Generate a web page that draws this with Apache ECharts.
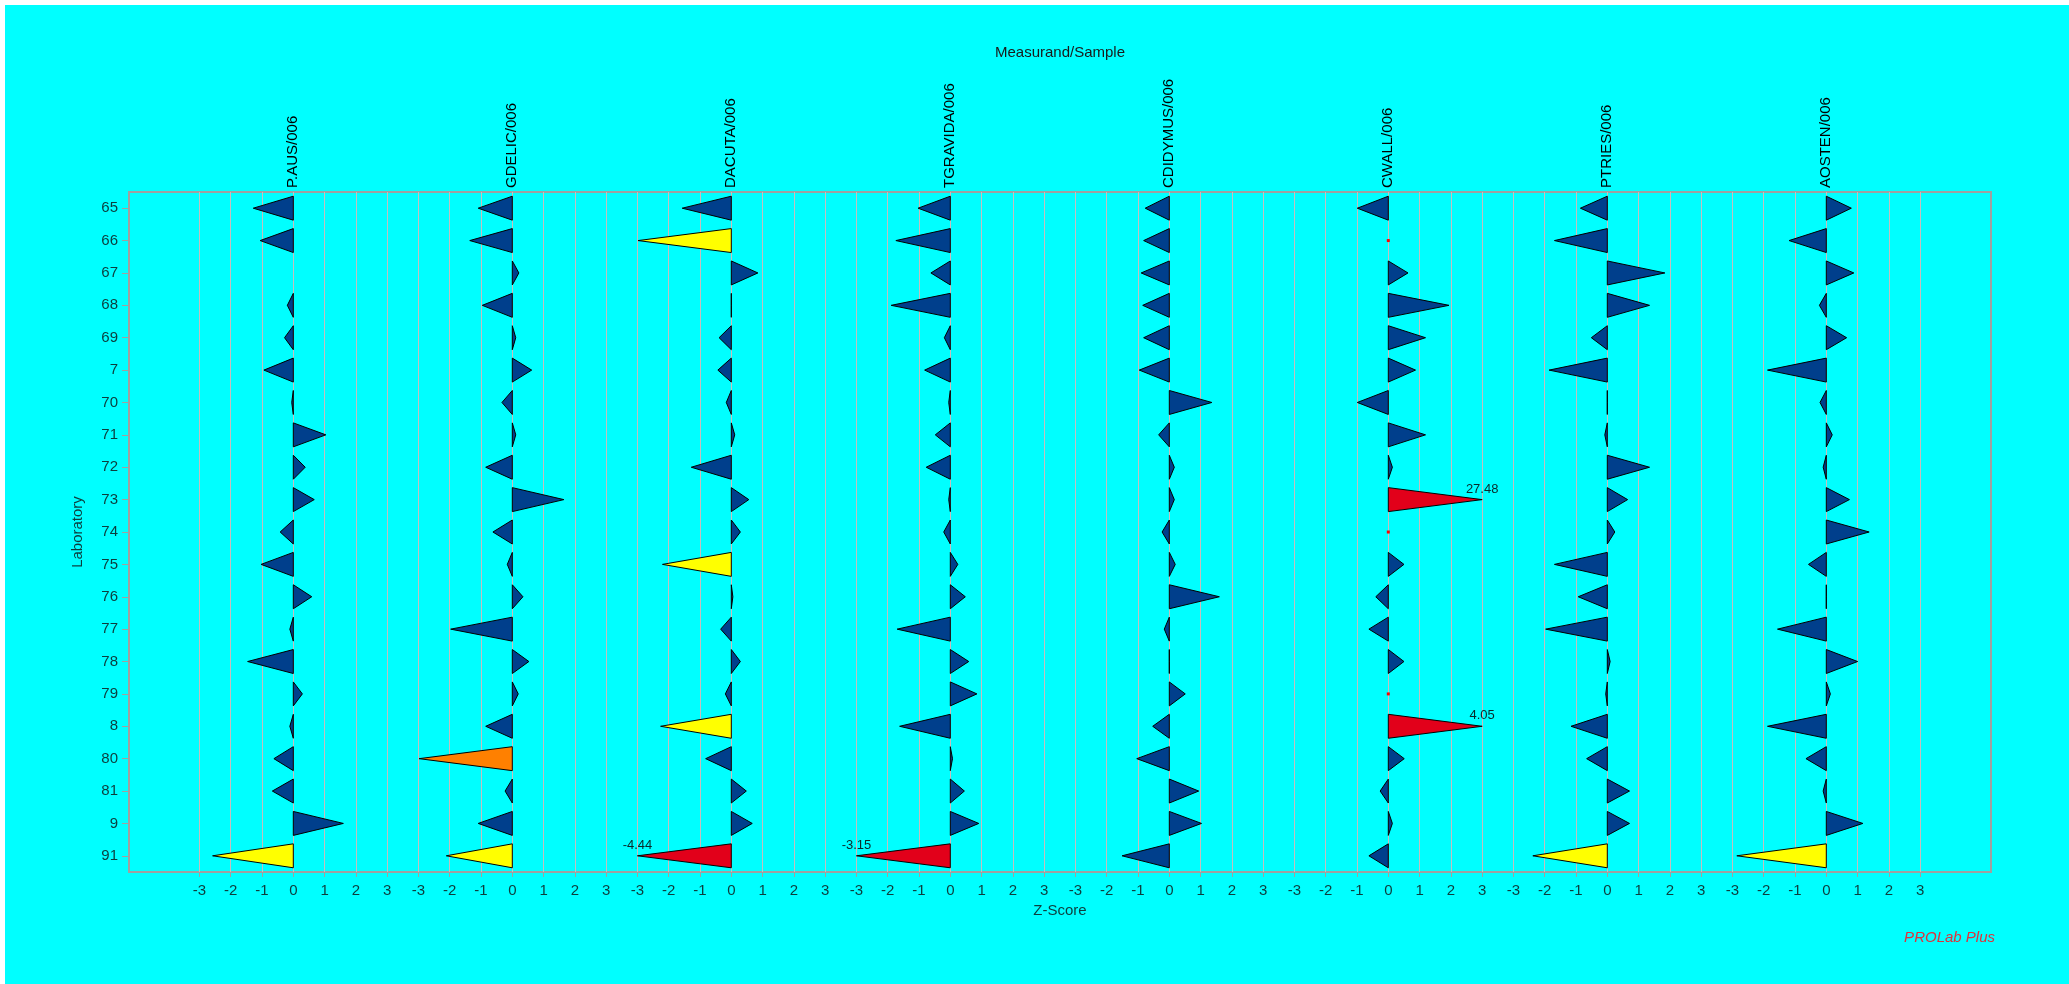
<!DOCTYPE html>
<html><head><meta charset="utf-8">
<script src="https://cdn.jsdelivr.net/npm/echarts@6/dist/echarts.min.js"></script>
<style>
html,body{margin:0;padding:0;background:#ffffff;width:2069px;height:984px;overflow:hidden}
#c{position:absolute;left:5px;top:5px;width:2064px;height:979px;background:#00ffff}
</style></head>
<body><div id="c"></div>
<script>
// ---------- data ----------
const laboratories = ['65','66','67','68','69','7','70','71','72','73','74','75','76','77','78','79','8','80','81','9','91'];
const measurands = ['P.AUS/006','GDELIC/006','DACUTA/006','TGRAVIDA/006','CDIDYMUS/006','CWALL/006','PTRIES/006','AOSTEN/006'];
const zTicks = [-3,-2,-1,0,1,2,3];

const zPAUS     = [-1.28,-1.06, null,-0.19,-0.28,-0.94,-0.05, 1.04, 0.38, 0.67,-0.42,-1.03, 0.59,-0.11,-1.46, 0.29,-0.11,-0.62,-0.67, 1.60,-2.58];
const zGDELIC   = [-1.09,-1.36, 0.21,-0.96, 0.11, 0.62,-0.33, 0.11,-0.85, 1.65,-0.62,-0.16, 0.34,-1.97, 0.53, 0.19,-0.85,-2.98,-0.23,-1.09,-2.11];
const zDACUTA   = [-1.57,-2.98, 0.85, 0.00,-0.39,-0.43,-0.16, 0.11,-1.28, 0.56, 0.29,-2.20, 0.05,-0.34, 0.29,-0.19,-2.26,-0.82, 0.48, 0.67,-4.44];
const zTGRAVIDA = [-1.03,-1.74,-0.62,-1.89,-0.19,-0.82,-0.05,-0.48,-0.77,-0.05,-0.21, 0.24, 0.48,-1.70, 0.59, 0.85,-1.62, 0.07, 0.45, 0.91,-3.15];
const zCDIDYMUS = [-0.77,-0.82,-0.90,-0.85,-0.82,-0.96, 1.36,-0.34, 0.16, 0.16,-0.23, 0.19, 1.60,-0.16, 0.00, 0.51,-0.53,-1.04, 0.94, 1.03,-1.51];
const zCWALL    = [-0.99, null, 0.63, 1.94, 1.19, 0.87,-0.99, 1.19, 0.13,27.48, null, 0.50,-0.40,-0.62, 0.50, null, 4.05, 0.51,-0.26, 0.13,-0.62];
const zPTRIES   = [-0.86,-1.69, 1.84, 1.35,-0.51,-1.86, 0.00,-0.08, 1.35, 0.65, 0.24,-1.69,-0.93,-1.97, 0.09,-0.05,-1.16,-0.66, 0.71, 0.71,-2.38];
const zAOSTEN   = [ 0.80,-1.19, 0.88,-0.22, 0.65,-1.88,-0.20, 0.19,-0.10, 0.74, 1.37,-0.57, 0.00,-1.56, 1.00, 0.13,-1.88,-0.65,-0.10, 1.17,-2.86];

const zScores = [zPAUS, zGDELIC, zDACUTA, zTGRAVIDA, zCDIDYMUS, zCWALL, zPTRIES, zAOSTEN];
const orangeCells = [['GDELIC/006','80']];
const noScoreCells = [['CWALL/006','66'],['CWALL/006','74'],['CWALL/006','79']];

// ---------- style / layout ----------
const FONT = 'Arial, "Liberation Sans", sans-serif';
const TXT = '#0d3d3d';
const BLUE = '#003f8c', YELLOW = '#ffff00', ORANGE = '#ff8000', RED = '#e2001a';
const FRAME = {left:124, top:187, width:1862, height:680};
const ZERO0 = 288.3, STEP = 219, UNIT = 219/7;

function isIn(list, m, lab){ return list.some(c => c[0]===m && c[1]===lab); }
function colorFor(m, lab, z){
  if (isIn(orangeCells, m, lab)) return ORANGE;
  const a = Math.abs(z);
  return a >= 3 ? RED : (a >= 2 ? YELLOW : BLUE);
}

const chart = echarts.init(document.getElementById('c'), null, {renderer:'canvas'});

const grids = [{left:FRAME.left, top:FRAME.top, width:FRAME.width, height:FRAME.height,
  show:true, borderColor:'#a0a0a0', borderWidth:2, backgroundColor:'transparent'}];
const xAxes = [{gridIndex:0, type:'value', min:0, max:1, axisLine:{show:false}, axisTick:{show:false},
  axisLabel:{show:false}, splitLine:{show:false}, name:'Z-Score', nameLocation:'middle', nameGap:31,
  nameTextStyle:{fontSize:15, color:TXT, fontFamily:FONT}}];
const yAxes = [{gridIndex:0, type:'category', data:laboratories, inverse:true,
  axisLine:{show:false}, axisTick:{show:true, length:7, alignWithLabel:true, lineStyle:{color:'#a0a0a0'}},
  axisLabel:{fontSize:15, color:TXT, margin:11, fontFamily:FONT}, splitLine:{show:false},
  name:'Laboratory', nameLocation:'middle', nameGap:44, nameRotate:90,
  nameTextStyle:{fontSize:15, color:TXT, fontFamily:FONT}}];
const series = [];

measurands.forEach((m, k) => {
  grids.push({left: ZERO0 + STEP*k - 3*UNIT, top:FRAME.top, width:6*UNIT, height:FRAME.height, show:false});
  xAxes.push({gridIndex:k+1, type:'value', min:zTicks[0], max:zTicks[zTicks.length-1], interval:1,
    axisLine:{show:false}, axisTick:{show:true, length:5, lineStyle:{color:'#a0a0a0'}},
    axisLabel:{fontSize:15, color:TXT, margin:11, fontFamily:FONT, showMinLabel:true, showMaxLabel:true},
    splitLine:{show:true, lineStyle:{color:'#c6bebe', width:1}}});
  yAxes.push({gridIndex:k+1, type:'category', data:laboratories, inverse:true, show:false});
  const vals = zScores[k];
  const items = [], meta = [];
  vals.forEach((z, i) => {
    const lab = laboratories[i];
    if (z === null) {
      if (isIn(noScoreCells, m, lab)) { items.push([0, i]); meta.push({dot:true}); }
      return;
    }
    const zc = Math.max(-3, Math.min(3, z));
    items.push([zc, i]);
    meta.push({raw:z, color:colorFor(m, lab, z), clipped: Math.abs(z) > 3});
  });
  series.push({
    type:'custom', xAxisIndex:k+1, yAxisIndex:k+1, data:items, encode:{x:0, y:1}, clip:false, silent:true,
    renderItem(params, api){
      const info = meta[params.dataIndex];
      const yi = api.value(1);
      const p0 = api.coord([0, yi]);
      if (info.dot) {
        return {type:'rect', shape:{x:p0[0]-1.5, y:p0[1]-1.5, width:3, height:3}, style:{fill:'#ff0000'}};
      }
      const p1 = api.coord([api.value(0), yi]);
      const half = api.size([0,1])[1] * 0.37;
      const children = [{type:'polygon', shape:{points:[[p0[0], p0[1]-half],[p0[0], p0[1]+half],[p1[0], p1[1]]]},
        style:{fill:info.color, stroke:'#000000', lineWidth:1}}];
      if (info.clipped) {
        children.push({type:'text', x:p1[0], y:p1[1]-4,
          style:{text:info.raw.toFixed(2), fontSize:13, fontFamily:FONT, fill:'#0a2a2a', align:'center', verticalAlign:'bottom'}});
      }
      return {type:'group', children};
    }
  });
});

chart.setOption({
  backgroundColor:'#00ffff',
  animation:false,
  grid:grids, xAxis:xAxes, yAxis:yAxes, series
});

const gfx = [
  {type:'text', x:FRAME.left + FRAME.width/2, y:48,
   style:{text:'Measurand/Sample', fontSize:15, fontFamily:FONT, fill:'#1a1a1a', align:'center', verticalAlign:'middle'}},
  {type:'text', x:1990, y:933,
   style:{text:'PROLab Plus', fontSize:15, fontStyle:'italic', fontFamily:FONT, fill:'#e0303a', align:'right', verticalAlign:'middle'}}
];
measurands.forEach((m, k) => {
  const px = chart.convertToPixel({xAxisIndex:k+1}, 0);
  gfx.push({type:'text', x:px, y:FRAME.top-4, rotation:Math.PI/2,
    style:{text:m, fontSize:15, fontFamily:FONT, fill:'#000000', align:'left', verticalAlign:'middle'}});
});
chart.setOption({graphic:gfx});
</script>
</body></html>
